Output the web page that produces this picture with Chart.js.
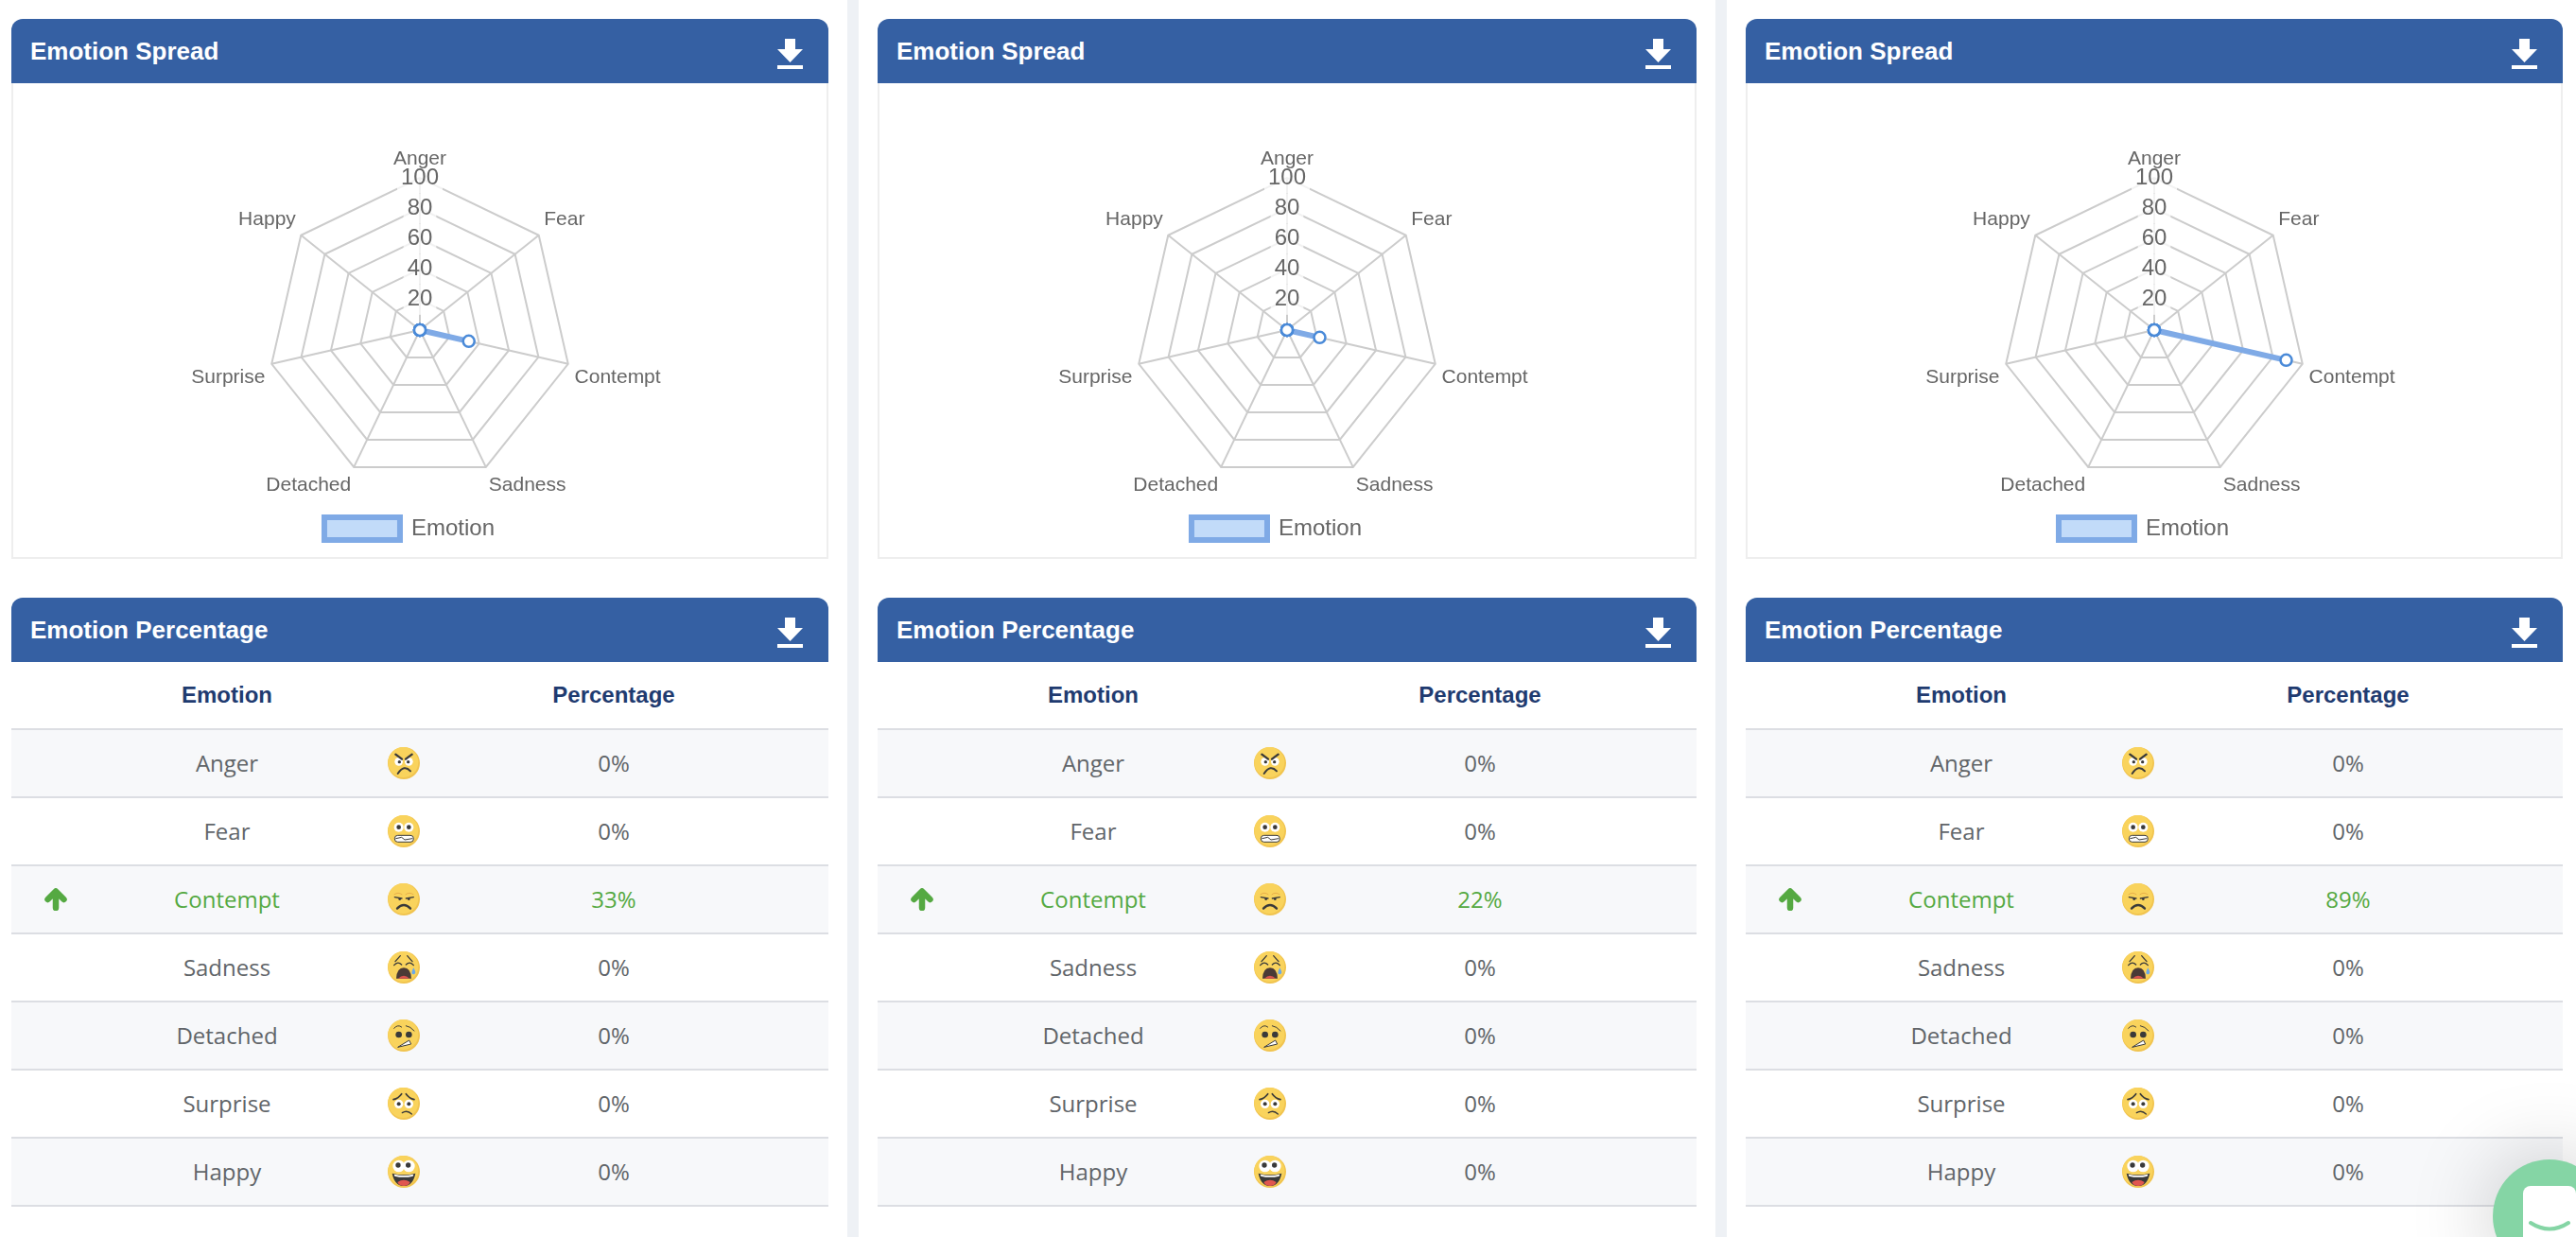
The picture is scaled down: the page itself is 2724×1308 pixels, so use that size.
<!DOCTYPE html>
<html>
<head>
<meta charset="utf-8">
<title>Emotion Spread</title>
<script src="https://cdn.jsdelivr.net/npm/chart.js@4"></script>
<style>
  html, body { margin: 0; padding: 0; background: #fff; }
  body { position: relative; width: 2724px; height: 1308px; overflow: hidden; font-family: "Open Sans", sans-serif; }
  .gutter { position: absolute; top: 0; height: 1308px; width: 12px; background: #eef1f5; }
  .head { position: absolute; height: 68px; background: #3560a3; border-radius: 12px 12px 0 0; color: #fff;
          font: bold 26px "Liberation Sans", Arial, sans-serif; line-height: 68px; text-indent: 20px; }
  .head svg { position: absolute; right: 26px; top: 21px; }
  .card { position: absolute; top: 88px; height: 503px; box-sizing: border-box; border: 2px solid #eeeeee; border-top: 0; }
  canvas { position: absolute; top: 88px; }
  .th { position: absolute; top: 700px; height: 70px; line-height: 70px; width: 300px; text-align: center;
        font: bold 24px/70px "Liberation Sans", Arial, sans-serif; color: #1f3b70; }
  .row { position: absolute; height: 70px; border-top: 2px solid #dcdee3; font-size: 24px; line-height: 70px; color: #616569; }
  .row.odd { background: #f7f8fa; }
  .row.up { color: #55a942; }
  .row.end { height: 0; }
  .row span { position: absolute; top: 0; width: 300px; text-align: center; }
  .row svg { position: absolute; }
  #chat { position: absolute; left: 2636px; top: 1226px; width: 120px; height: 120px; border-radius: 60px;
          background: #85d5a5; box-shadow: 0 0 90px rgba(0,0,0,0.22); }
  #chat svg { position: absolute; left: 0; top: 0; }
</style>
</head>
<body>
<script>
// chart data
const emotions = ['Anger', 'Fear', 'Contempt', 'Sadness', 'Detached', 'Surprise', 'Happy'];
const panelOneValues = [0, 0, 33, 0, 0, 0, 0];
const panelTwoValues = [0, 0, 22, 0, 0, 0, 0];
const panelThreeValues = [0, 0, 89, 0, 0, 0, 0];
const seriesLabel = 'Emotion';
const spreadTitle = 'Emotion Spread';
const percentTitle = 'Emotion Percentage';
const tableHeads = ['Emotion', 'Percentage'];

// columns on the page
const columns = [
  { x: 12, w: 864, values: panelOneValues },
  { x: 928, w: 866, values: panelTwoValues },
  { x: 1846, w: 864, values: panelThreeValues }
];

const downloadIcon = '<svg width="28" height="34" viewBox="0 0 28 34">' +
  '<path d="M8 0H19V11H27L13.5 25L0 11H8Z" fill="#fff"/><rect x="0" y="28" width="27" height="4" fill="#fff"/></svg>';

const upArrow = '<svg width="24" height="24" viewBox="0 0 24 24" style="left:35px;top:23px">' +
  '<path d="M12 21V4M3.5 12L12 3.5L20.5 12" fill="none" stroke="#55a942" stroke-width="6.5" stroke-linecap="round" stroke-linejoin="round"/></svg>';

// little smiley drawings, 102 units wide
const dark = 'fill="none" stroke="#3a3a3a" stroke-linecap="round"';
const faces = {
  Anger: '<circle cx="35" cy="46" r="13" fill="#fff"/><circle cx="67" cy="46" r="13" fill="#fff"/>' +
    '<circle cx="37" cy="47" r="5" fill="#3a3a3a"/><circle cx="65" cy="47" r="5" fill="#3a3a3a"/>' +
    '<path d="M25 23L45 38M77 23L57 38" ' + dark + ' stroke-width="7"/>' +
    '<path d="M32 84Q52 54 72 76" ' + dark + ' stroke-width="6"/>',
  Fear: '<circle cx="35" cy="38" r="15" fill="#fff"/><circle cx="67" cy="38" r="15" fill="#fff"/>' +
    '<circle cx="35" cy="38" r="7" fill="#3a3a3a"/><circle cx="67" cy="38" r="7" fill="#3a3a3a"/>' +
    '<rect x="22" y="64" width="60" height="21" rx="10" fill="#fff" stroke="#3a3a3a" stroke-width="3"/>' +
    '<path d="M26 74L44 70L54 78L78 74" ' + dark + ' stroke-width="3"/>',
  Contempt: '<path d="M20 36Q33 26 46 36M56 36Q69 26 82 36" fill="none" stroke="#e8b04a" stroke-width="3"/>' +
    '<path d="M22 44L45 48M58 48L82 44" ' + dark + ' stroke-width="4"/>' +
    '<circle cx="38" cy="50" r="4" fill="#3a3a3a"/><circle cx="67" cy="50" r="4" fill="#3a3a3a"/>' +
    '<path d="M30 80Q51 58 72 80" ' + dark + ' stroke-width="7"/>',
  Sadness: '<path d="M24 32L40 14M78 32L62 14" ' + dark + ' stroke-width="4"/>' +
    '<path d="M20 44Q32 30 44 42M58 42Q70 30 82 44" ' + dark + ' stroke-width="4"/>' +
    '<path d="M27 86Q29 52 51 52Q73 52 75 86Z" fill="#4a3a36"/><path d="M33 86Q51 68 69 86Z" fill="#d9534f"/>' +
    '<path d="M82 52Q90 66 87 70A6 6 0 0 1 76 68Q76 62 82 52Z" fill="#6aa8e8"/>',
  Detached: '<path d="M20 28Q32 14 44 24M58 20Q72 22 84 36" ' + dark + ' stroke-width="3"/>' +
    '<circle cx="35" cy="48" r="10" fill="#3a3a3a"/><circle cx="67" cy="48" r="10" fill="#3a3a3a"/>' +
    '<path d="M32 88L68 66L74 78Z" fill="#fff" stroke="#3a3a3a" stroke-width="3" stroke-linejoin="round"/>',
  Surprise: '<path d="M18 38Q34 34 44 20M58 20Q68 34 84 38" ' + dark + ' stroke-width="5"/>' +
    '<circle cx="35" cy="52" r="14" fill="#fff"/><circle cx="67" cy="52" r="14" fill="#fff"/>' +
    '<circle cx="35" cy="52" r="6" fill="#3a3a3a"/><circle cx="67" cy="52" r="6" fill="#3a3a3a"/>' +
    '<path d="M46 80Q62 70 76 84" ' + dark + ' stroke-width="4"/>',
  Happy: '<circle cx="35" cy="33" r="19" fill="#fff"/><circle cx="67" cy="33" r="19" fill="#fff"/>' +
    '<circle cx="33" cy="30" r="8" fill="#3a3a3a"/><circle cx="65" cy="30" r="8" fill="#3a3a3a"/>' +
    '<path d="M14 56Q51 66 88 56Q80 96 51 96Q22 96 14 56Z" fill="#3a3a3a"/>' +
    '<path d="M20 59Q51 67 82 59L80 65Q51 72 22 65Z" fill="#fff"/>' +
    '<path d="M31 84Q51 70 71 84Q66 96 51 96Q36 96 31 84Z" fill="#e0564f"/>'
};

function faceSvg(name) {
  return '<svg width="34" height="34" viewBox="0 0 102 102" style="left:398px;top:18px">' +
    '<circle cx="51" cy="51" r="51" fill="#f1c44f"/><circle cx="49" cy="48" r="48" fill="#f9d35c"/>' +
    faces[name] + '</svg>';
}

function addEl(cls, left, top, width, html) {
  const el = document.createElement('div');
  el.className = cls;
  el.style.left = left + 'px';
  if (top !== null) el.style.top = top + 'px';
  if (width !== null) el.style.width = width + 'px';
  el.innerHTML = html;
  document.body.appendChild(el);
  return el;
}

// legend sits a little left of the centre and closer to the radar in the original
const legendNudge = {
  id: 'legendNudge',
  afterLayout: function(chart) {
    chart.legend.left -= 11;
    chart.legend.right -= 11;
    chart.legend.top -= 8;
    chart.legend.bottom -= 8;
  }
};

// 1. grey strips between the columns
addEl('gutter', 896, null, null, '');
addEl('gutter', 1814, null, null, '');

columns.forEach(function(col) {
  // 2. radar card
  addEl('head', col.x, 20, col.w, spreadTitle + downloadIcon);
  addEl('card', col.x, null, col.w, '');

  const canvas = document.createElement('canvas');
  canvas.style.left = col.x + 'px';
  document.body.appendChild(canvas);
  canvas.width = col.w;
  canvas.height = 501;

  new Chart(canvas.getContext('2d'), {
    type: 'radar',
    plugins: [legendNudge],
    data: {
      labels: emotions,
      datasets: [{
        label: seriesLabel,
        data: col.values,
        backgroundColor: '#c2dbf9',
        borderColor: '#7faae6',
        borderWidth: 6,
        pointBackgroundColor: '#fff',
        pointBorderColor: '#4a8ad8',
        pointBorderWidth: 2.5,
        pointRadius: 6
      }]
    },
    options: {
      responsive: false,
      animation: false,
      devicePixelRatio: 1,
      layout: { padding: { top: 60 } },
      plugins: {
        tooltip: { enabled: false },
        legend: {
          position: 'bottom',
          labels: { boxWidth: 80, boxHeight: 24, padding: 20, color: '#666', font: { family: 'Liberation Sans', size: 24 } }
        }
      },
      scales: {
        r: {
          min: 0,
          max: 100,
          ticks: {
            stepSize: 20,
            color: '#666',
            // top tick (100): trim the white backdrop so the Anger label above stays readable
            backdropPadding: { top: function(ctx) { return ctx.index === 5 ? -8 : 4; }, bottom: 4, left: 4, right: 4 },
            font: { family: 'Liberation Sans', size: 24 }
          },
          grid: { color: '#cccccc', lineWidth: 2 },
          angleLines: { color: '#cccccc', lineWidth: 2 },
          pointLabels: { color: '#666', padding: -9, font: { family: 'Liberation Sans', size: 21 } }
        }
      }
    }
  });

  // 3. table card
  addEl('head', col.x, 632, col.w, percentTitle + downloadIcon);
  addEl('th', col.x + 78, null, null, tableHeads[0]);
  addEl('th', col.x + 487, null, null, tableHeads[1]);

  emotions.forEach(function(name, i) {
    const value = col.values[i];
    const top = 770 + i * 72;
    let html = '<span style="left:78px">' + name + '</span>' + faceSvg(name) +
      '<span style="left:487px">' + value + '%</span>';
    if (value > 0) html += upArrow;
    const cls = 'row' + (i % 2 === 0 ? ' odd' : '') + (value > 0 ? ' up' : '');
    addEl(cls, col.x, top, col.w, html);
  });
  addEl('row end', col.x, 770 + emotions.length * 72, col.w, '');
});

// 4. chat bubble in the corner
addEl('', 2636, null, null, '').id = 'chat';
document.getElementById('chat').innerHTML = '<svg width="120" height="120" viewBox="0 0 120 120">' +
  '<rect x="32" y="28" width="56" height="70" rx="8" fill="#fff"/>' +
  '<path d="M40 67Q60 80 80 67" fill="none" stroke="#85d5a5" stroke-width="4" stroke-linecap="round"/></svg>';
</script>
</body>
</html>
